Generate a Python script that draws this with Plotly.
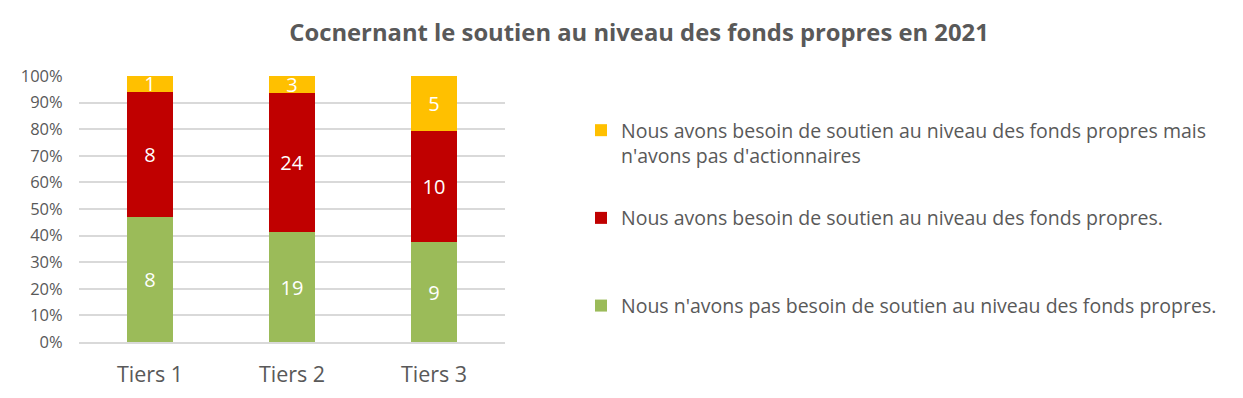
import plotly.graph_objects as go

categories = ["Tiers 1", "Tiers 2", "Tiers 3"]
green_vals = [8, 19, 9]
red_vals = [8, 24, 10]
yellow_vals = [1, 3, 5]

names = [
    "Nous n'avons pas besoin de soutien au niveau des fonds propres.",
    "Nous avons besoin de soutien au niveau des fonds propres.<br> ",
    "Nous avons besoin de soutien au niveau des fonds propres mais<br>n'avons pas d'actionnaires",
]
colors = ["#9BBB59", "#C00000", "#FFC000"]
ranks = [3, 2, 1]
series = [green_vals, red_vals, yellow_vals]

FONT = "Open Sans"
GRAY = "#595959"
OFF = 8  # page body margin

fig = go.Figure()
for i, (vals, nm, col) in enumerate(zip(series, names, colors)):
    fig.add_trace(go.Bar(
        x=categories, y=vals, name=nm, marker_color=col,
        marker_line_width=0,
        text=vals, texttemplate="%{text}", textposition="inside",
        insidetextanchor="middle", textangle=0, constraintext="none",
        textfont=dict(color="white", size=20, family=FONT),
        legendgroup=f"g{i}", legendrank=ranks[i], width=0.32,
    ))

fig.update_layout(
    barmode="stack", barnorm="percent",
    width=1243, height=398,
    paper_bgcolor="white", plot_bgcolor="white",
    margin=dict(l=79 - OFF, r=1243 - 79 + OFF - 426, t=76 - OFF,
                b=398 - 76 + OFF - 266, autoexpand=False),
    font=dict(family=FONT, color=GRAY),
    title=dict(text="<b>Cocnernant le soutien au niveau des fonds propres en 2021</b>",
               x=(639 - OFF) / 1243, xanchor="center", y=1 - (33 - OFF) / 398,
               yanchor="middle",
               font=dict(size=23.8, color=GRAY, family=FONT)),
    showlegend=True,
    legend=dict(xref="container", yref="container", x=(581 - OFF) / 1243,
                y=1 - (111 - OFF) / 398,
                xanchor="left", yanchor="top", traceorder="grouped",
                tracegroupgap=34, valign="top", maxheight=380,
                font=dict(size=19.5, color=GRAY, family=FONT),
                itemwidth=30, bgcolor="rgba(0,0,0,0)"),
    uniformtext=dict(mode="show", minsize=20),
)
fig.update_yaxes(range=[0, 100], dtick=10, ticksuffix="%", showgrid=True,
                 gridcolor="#D9D9D9", gridwidth=1.5, zeroline=False,
                 tickfont=dict(size=16.5, color=GRAY, family=FONT),
                 ticks="outside", ticklen=12, tickcolor="rgba(0,0,0,0)",
                 showline=False)
fig.update_xaxes(showline=True, linecolor="#D9D9D9", linewidth=1.5,
                 tickfont=dict(size=21.5, color=GRAY, family=FONT),
                 ticks="outside", ticklen=12, tickcolor="rgba(0,0,0,0)",
                 range=[-0.5, 2.5])

fig.write_html("out.html")
